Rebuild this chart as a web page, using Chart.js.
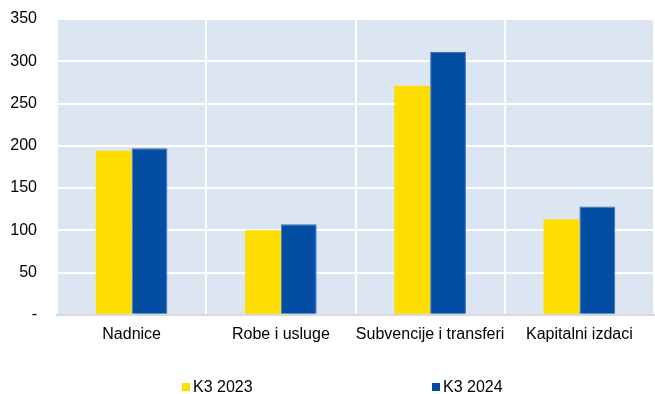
<!DOCTYPE html>
<html>
<head>
<meta charset="utf-8">
<script src="https://cdn.jsdelivr.net/npm/chart.js@4/dist/chart.umd.min.js"></script>
<style>
  html, body { margin: 0; padding: 0; background: #fff; }
  #wrap { width: 655px; height: 394px; position: relative; }
</style>
</head>
<body>
<div id="wrap"><canvas id="graficoRashodi"></canvas></div>
<script>
// kategorije i vrijednosti po godinama
const kategorije = ['Nadnice', 'Robe i usluge', 'Subvencije i transferi', 'Kapitalni izdaci'];
const k3_2023 = [194, 100, 271, 113];
const k3_2024 = [197, 107, 311, 128];
const yTicks = [0, 50, 100, 150, 200, 250, 300, 350];

const zuta = '#ffdd00';
const plava = '#034ea2';
const font = { family: '"Liberation Sans", Arial, sans-serif', size: 16 };

// pozadina samo unutar podrucja grafa
const pozadina = {
    id: 'pozadina',
    beforeDraw(chart) {
        const { ctx, chartArea: a } = chart;
        ctx.save();
        ctx.fillStyle = '#dce6f2';
        ctx.fillRect(a.left, a.top, a.right - a.left, a.bottom - a.top);
        ctx.restore();
    }
};

// legenda ispod grafa, stavke razmaknute
const legenda = {
    id: 'legenda',
    afterDraw(chart) {
        const ctx = chart.ctx;
        const xs = [182, 432];
        const y = 383;
        ctx.save();
        ctx.font = '16px "Liberation Sans", Arial, sans-serif';
        ctx.textBaseline = 'alphabetic';
        chart.data.datasets.forEach((ds, i) => {
            ctx.fillStyle = ds.backgroundColor;
            ctx.fillRect(xs[i], y, 8, 8);
            ctx.fillStyle = '#000';
            ctx.fillText(ds.label, xs[i] + 11, y + 9);
        });
        ctx.restore();
    }
};

const ctx = document.getElementById('graficoRashodi').getContext('2d');

new Chart(ctx, {
    type: 'bar',
    data: {
        labels: kategorije,
        datasets: [{
            label: 'K3 2023',
            data: k3_2023,
            backgroundColor: zuta,
            borderWidth: 0
        }, {
            label: 'K3 2024',
            data: k3_2024,
            backgroundColor: plava,
            borderColor: '#3d72b8',
            borderWidth: 1
        }]
    },
    options: {
        responsive: true,
        maintainAspectRatio: false,
        animation: false,
        categoryPercentage: 0.48,
        barPercentage: 1,
        layout: {
            padding: { top: 19, right: 1, bottom: 40, left: 0 }
        },
        plugins: {
            legend: { display: false },
            tooltip: { enabled: false }
        },
        scales: {
            x: {
                grid: {
                    color: '#ffffff',
                    lineWidth: 2,
                    drawTicks: false
                },
                border: {
                    display: true,
                    color: '#d9d9d9',
                    width: 2
                },
                ticks: {
                    padding: 10,
                    color: '#000',
                    font: font,
                    autoSkip: false,
                    maxRotation: 0,
                    minRotation: 0
                }
            },
            y: {
                min: 0,
                max: 350,
                afterBuildTicks: axis => {
                    axis.ticks = yTicks.map(v => ({ value: v }));
                },
                afterFit: axis => {
                    axis.width = 57; // sirina osi s oznakama
                    axis.paddingTop = 0;
                    axis.paddingBottom = 0;
                },
                grid: {
                    color: '#ffffff',
                    lineWidth: 2,
                    drawTicks: false
                },
                border: { display: false },
                ticks: {
                    padding: 20,
                    color: '#000',
                    font: font,
                    callback: v => v === 0 ? '-' : v
                }
            }
        }
    },
    plugins: [pozadina, legenda]
});
</script>
</body>
</html>
